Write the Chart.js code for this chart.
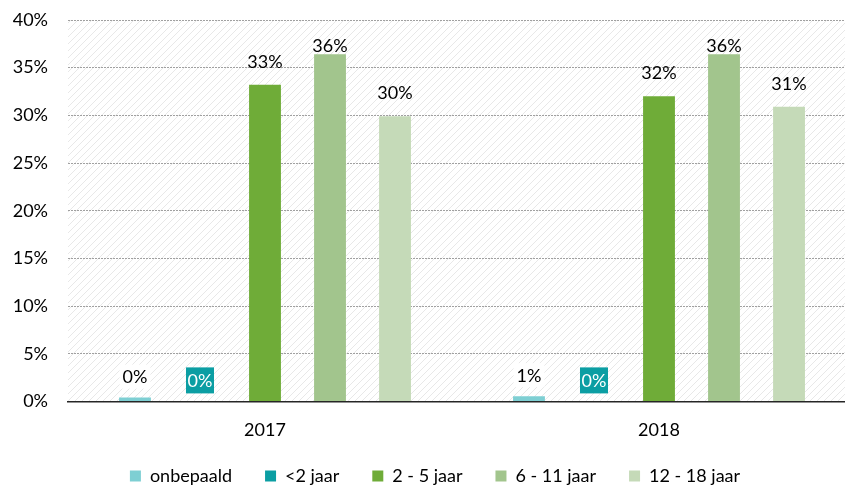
<!DOCTYPE html>
<html>
<head>
<meta charset="utf-8">
<script src="https://cdn.jsdelivr.net/npm/chart.js@4/dist/chart.umd.min.js"></script>
<style>
html,body{margin:0;padding:0;background:#fff;overflow:hidden;}
#wrap{width:845px;height:491px;overflow:hidden;position:relative;}
canvas{display:block;}
</style>
</head>
<body>
<div id="wrap"><canvas id="c" width="856" height="491"></canvas></div>
<script>
const categories = ['2017', '2018'];
const seriesNames = ['onbepaald', '<2 jaar', '2 - 5 jaar', '6 - 11 jaar', '12 - 18 jaar'];
const onbepaald = [0.4, 0.55];
const lt2jaar = [0, 0];
const jaar2_5 = [33.2, 32.0];
const jaar6_11 = [36.4, 36.4];
const jaar12_18 = [29.9, 30.9];
const yTicks = [0, 5, 10, 15, 20, 25, 30, 35, 40];

const colors = ['#7ecfd3', '#0b9ea3', '#6fac38', '#a2c58d', '#c5dab8'];
const seriesValues = [onbepaald, lt2jaar, jaar2_5, jaar6_11, jaar12_18];
const FONT = 'Lato, "Open Sans", sans-serif';
const FS = 18;
const LEG_PAD = 33;

function hatch() {
  const p = document.createElement('canvas');
  p.width = 7; p.height = 7;
  const g = p.getContext('2d');
  g.fillStyle = '#ffffff';
  g.fillRect(0, 0, 7, 7);
  g.strokeStyle = '#e8e8e8';
  g.lineWidth = 1;
  g.beginPath();
  g.moveTo(-1, 8); g.lineTo(8, -1);
  g.moveTo(-8, 8); g.lineTo(1, -1);
  g.moveTo(6, 8); g.lineTo(15, -1);
  g.stroke();
  return p;
}

const bgPlugin = {
  id: 'bg',
  beforeDraw(chart) {
    const {ctx, chartArea: a} = chart;
    ctx.save();
    ctx.fillStyle = ctx.createPattern(hatch(), 'repeat');
    ctx.fillRect(a.left, a.top, a.right - a.left, a.bottom - a.top);
    ctx.restore();
  }
};

const legendPlace = {
  id: 'legendPlace',
  beforeLayout(chart) {
    const lg = chart.legend;
    if (lg && !lg._patched) {
      const orig = lg.fit;
      lg.fit = function () { orig.call(this); this.height = 32; };
      lg._patched = true;
    }
  },
  afterLayout(chart) {
    const lg = chart.legend;
    lg.top = 476 - LEG_PAD - FS / 2;
    lg.bottom = chart.height;
    lg.height = lg.bottom - lg.top;
    lg.left += 7;
    lg.right += 7;
  }
};

const labelPlugin = {
  id: 'vlabels',
  afterDatasetsDraw(chart) {
    const ctx = chart.ctx;
    ctx.save();
    ctx.font = FS + 'px ' + FONT;
    ctx.textAlign = 'center';
    ctx.textBaseline = 'middle';
    chart.data.datasets.forEach((ds, di) => {
      const meta = chart.getDatasetMeta(di);
      meta.data.forEach((el, i) => {
        const v = ds.data[i];
        const txt = Math.round(v) + '%';
        const off = v < 3 ? 21 : 24;
        const y = Math.max(el.y - off, chart.chartArea.top + 25);
        const w = ctx.measureText(txt).width + 6;
        if (di === 1) {
          ctx.fillStyle = colors[1];
          ctx.fillRect(el.x - 14, y - 13, 28, 26);
          ctx.fillStyle = '#ffffff';
          ctx.fillText(txt, el.x, y + 1);
        } else {
          if (v < 3) {
            ctx.fillStyle = '#ffffff';
            ctx.fillRect(el.x - w / 2, y - 12, w, 24);
          }
          ctx.fillStyle = '#000000';
          ctx.fillText(txt, el.x, y + 1);
        }
      });
    });
    ctx.restore();
  }
};

new Chart(document.getElementById('c'), {
  type: 'bar',
  data: {
    labels: categories,
    datasets: seriesNames.map((n, i) => ({
      label: n,
      data: seriesValues[i],
      backgroundColor: colors[i],
      borderWidth: 0,
      categoryPercentage: 0.825,
      barPercentage: 0.49
    }))
  },
  options: {
    responsive: false,
    animation: false,
    devicePixelRatio: 1,
    layout: {padding: {top: 20, left: 0, right: 0, bottom: 0}},
    plugins: {
      legend: {
        position: 'bottom',
        labels: {
          boxWidth: 11, boxHeight: 11, padding: LEG_PAD,
          color: '#000', font: {family: FONT, size: FS}
        }
      },
      tooltip: {enabled: false}
    },
    scales: {
      x: {
        grid: {display: false, drawTicks: false},
        border: {display: true, color: '#262626', width: 1.5},
        ticks: {color: '#000', font: {family: FONT, size: FS}, padding: 18}
      },
      y: {
        min: 0, max: 40,
        afterBuildTicks(s) { s.ticks = yTicks.map(v => ({value: v})); },
        afterFit(s) { s.width = 68; s.paddingTop = 0; s.paddingBottom = 0; },
        grid: {color: '#a0a0a0', lineWidth: 1, drawTicks: false},
        border: {display: false, dash: [2, 1]},
        ticks: {color: '#000', font: {family: FONT, size: FS}, padding: 20, callback: v => v + '%'}
      }
    }
  },
  plugins: [bgPlugin, legendPlace, labelPlugin]
});
</script>
</body>
</html>
